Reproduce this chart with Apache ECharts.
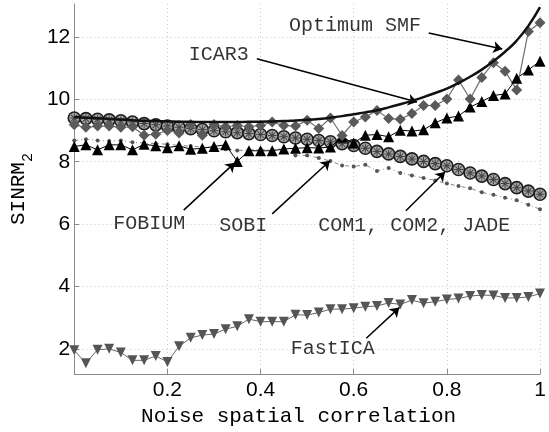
<!DOCTYPE html>
<html>
<head>
<meta charset="utf-8">
<script src="https://cdn.jsdelivr.net/npm/echarts@6/dist/echarts.min.js"></script>
<style>
  html, body { margin: 0; padding: 0; background: #fff; }
  #chart { width: 549px; height: 432px; }
</style>
</head>
<body>
<div id="chart"></div>
<script>
// noise spatial correlation (x)
var noiseCorr = [0, 0.025, 0.05, 0.075, 0.1, 0.125, 0.15, 0.175, 0.2, 0.225,
  0.25, 0.275, 0.3, 0.325, 0.35, 0.375, 0.4, 0.425, 0.45, 0.475,
  0.5, 0.525, 0.55, 0.575, 0.6, 0.625, 0.65, 0.675, 0.7, 0.725,
  0.75, 0.775, 0.8, 0.825, 0.85, 0.875, 0.9, 0.925, 0.95, 0.975, 1];

var smf = [9.43, 9.41, 9.39, 9.37, 9.35, 9.33, 9.31, 9.30, 9.29, 9.28,
  9.28, 9.27, 9.27, 9.27, 9.27, 9.28, 9.28, 9.29, 9.30, 9.32,
  9.34, 9.37, 9.41, 9.46, 9.52, 9.58, 9.65, 9.74, 9.84, 9.95,
  10.07, 10.20, 10.34, 10.52, 10.72, 10.95, 11.22, 11.52, 11.88, 12.35, 12.95];

var icar3 = [9.18, 9.10, 9.14, 9.14, 9.10, 9.12, 8.85, 8.88, 9.00, 8.92,
  9.19, 8.85, 9.19, 9.12, 9.16, 9.12, 9.16, 9.27, 9.16, 9.14,
  9.33, 9.06, 9.40, 8.84, 9.27, 9.43, 9.64, 9.38, 9.36, 9.54,
  9.80, 9.80, 10.01, 10.62, 10.01, 10.70, 11.17, 10.90, 10.30, 12.17, 12.45];

var fobium = [8.49, 8.54, 8.38, 8.54, 8.54, 8.38, 8.56, 8.51, 8.45, 8.51,
  8.40, 8.43, 8.49, 8.54, 8.01, 8.35, 8.35, 8.35, 8.41, 8.43,
  8.45, 8.44, 8.47, 8.78, 8.60, 8.85, 8.87, 8.80, 9.01, 8.98,
  9.02, 9.25, 9.40, 9.46, 9.75, 9.93, 10.12, 10.17, 10.67, 10.94, 11.22];

var com = [9.40, 9.38, 9.36, 9.34, 9.31, 9.27, 9.22, 9.18, 9.14, 9.10,
  9.06, 9.03, 8.99, 8.96, 8.93, 8.90, 8.87, 8.84, 8.80, 8.76,
  8.72, 8.68, 8.64, 8.58, 8.52, 8.43, 8.33, 8.25, 8.17, 8.09,
  8.01, 7.94, 7.87, 7.75, 7.64, 7.54, 7.43, 7.30, 7.17, 7.06, 6.96];

var sobi = [8.68, 8.72, 8.68, 8.66, 8.68, 8.62, 8.60, 8.58, 8.56, 8.52,
  8.50, 8.47, 8.44, 8.40, 8.36, 8.38, 8.40, 8.38, 8.42, 8.20,
  8.20, 8.12, 8.02, 7.88, 7.85, 7.90, 7.70, 7.80, 7.64, 7.56,
  7.48, 7.40, 7.30, 7.22, 7.15, 7.02, 6.94, 6.85, 6.77, 6.62, 6.48];

var fastica = [1.96, 1.55, 1.98, 2.01, 1.89, 1.64, 1.64, 1.78, 1.59, 2.09,
  2.36, 2.45, 2.48, 2.64, 2.73, 2.96, 2.88, 2.88, 2.88, 3.10,
  3.09, 3.17, 3.28, 3.28, 3.31, 3.36, 3.38, 3.48, 3.43, 3.57,
  3.47, 3.52, 3.59, 3.62, 3.70, 3.73, 3.72, 3.64, 3.64, 3.67, 3.78];

// annotation text and where it sits (data coords)
var noteText = ['Optimum SMF', 'ICAR3', 'FOBIUM', 'SOBI', 'COM1, COM2, JADE', 'FastICA'];
var notePos = [[0.603, 12.35], [0.31, 11.43], [0.161, 6.0], [0.363, 5.94], [0.73, 5.94], [0.555, 2.01]];
// arrows: from -> to
var arrowFrom = [[0.761, 12.12], [0.392, 11.30], [0.235, 6.45], [0.425, 6.33], [0.712, 6.43], [0.627, 2.35]];
var arrowTo = [[0.919, 11.61], [0.736, 9.91], [0.345, 7.97], [0.549, 8.03], [0.796, 7.67], [0.698, 3.33]];

function pairs(ys) {
  return noiseCorr.map(function (x, i) { return [x, ys[i]]; });
}

// 8 spokes inside the COM circle
function spokePath() {
  var p = 'path://';
  var r = 10, w = 1.1;
  for (var k = 0; k < 4; k++) {
    var a = k * Math.PI / 4;
    var dx = Math.cos(a), dy = Math.sin(a), nx = -dy, ny = dx;
    var pts = [
      [-r * dx + w * nx, -r * dy + w * ny],
      [r * dx + w * nx, r * dy + w * ny],
      [r * dx - w * nx, r * dy - w * ny],
      [-r * dx - w * nx, -r * dy - w * ny]
    ];
    p += 'M' + pts.map(function (q) { return q[0].toFixed(2) + ',' + q[1].toFixed(2); }).join('L') + 'Z';
  }
  return p;
}

var mono = 'Liberation Mono';
var sans = 'Liberation Sans';

var chart = echarts.init(document.getElementById('chart'));

var option = {
  animation: false,
  backgroundColor: '#fff',
  grid: { left: 65, right: 9, top: 4, bottom: 53 },
  xAxis: {
    type: 'value',
    min: 0,
    max: 1,
    interval: 0.2,
    name: 'Noise spatial correlation',
    nameLocation: 'middle',
    nameGap: 27,
    nameTextStyle: { fontFamily: mono, fontSize: 21, color: '#000', padding: [0, 17, 0, 0] },
    axisLine: { lineStyle: { color: '#8a8a8a', width: 1 } },
    axisTick: { inside: true, length: 5, lineStyle: { color: '#8a8a8a' } },
    axisLabel: {
      fontFamily: sans, fontSize: 21, color: '#000', margin: 6,
      formatter: function (v) { return v === 0 ? '' : String(parseFloat(v.toFixed(1))); }
    },
    splitLine: { show: true, showMinLine: false, showMaxLine: true, lineStyle: { color: '#c8c8c8', type: [1, 3] } }
  },
  yAxis: {
    type: 'value',
    min: 1.2,
    max: 13.05,
    name: '{a|SINRM}{b|2}',
    nameLocation: 'middle',
    nameRotate: 90,
    nameGap: 20,
    nameTextStyle: {
      fontFamily: mono, fontSize: 21, color: '#000',
      rich: {
        a: { fontFamily: mono, fontSize: 21, lineHeight: 28, verticalAlign: 'top', color: '#000' },
        b: { fontFamily: mono, fontSize: 15, lineHeight: 28, verticalAlign: 'bottom', color: '#000' }
      }
    },
    axisLine: { show: true, lineStyle: { color: '#8a8a8a', width: 1 } },
    axisTick: { show: true, inside: true, length: 5, lineStyle: { color: '#8a8a8a' } },
    axisLabel: {
      fontFamily: sans, fontSize: 21, color: '#000', margin: 4,
      showMinLabel: false, showMaxLabel: false
    },
    splitLine: { show: true, showMinLine: false, showMaxLine: false, lineStyle: { color: '#c8c8c8', type: [1, 3] } }
  },
  series: [
    {
      name: 'FastICA', type: 'line', data: pairs(fastica),
      symbol: 'triangle', symbolRotate: 180, symbolSize: 10,
      itemStyle: { color: '#555' },
      lineStyle: { color: '#666', width: 1 }
    },
    {
      name: 'SOBI', type: 'line', data: pairs(sobi),
      symbol: 'circle', symbolSize: 4,
      itemStyle: { color: '#555' },
      lineStyle: { color: '#888', width: 1, type: [4, 3, 1, 3] }
    },
    {
      name: 'COM', type: 'line', data: pairs(com),
      symbol: 'circle', symbolSize: 12,
      itemStyle: { color: '#a8a8a8', borderColor: '#1e1e1e', borderWidth: 1.6 },
      lineStyle: { color: '#222', width: 1 }
    },
    {
      name: 'COM spokes', type: 'scatter', data: pairs(com), z: 3,
      symbol: spokePath(), symbolSize: 9,
      itemStyle: { color: '#2a2a2a' }
    },
    {
      name: 'FOBIUM', type: 'line', data: pairs(fobium), z: 4,
      symbol: 'triangle', symbolSize: 11,
      itemStyle: { color: '#000' },
      lineStyle: { color: '#000', width: 1 }
    },
    {
      name: 'ICAR3', type: 'line', data: pairs(icar3), z: 4,
      symbol: 'diamond', symbolSize: 11,
      itemStyle: { color: '#5a5a5a' },
      lineStyle: { color: '#6e6e6e', width: 1.2 }
    },
    {
      name: 'Optimum SMF', type: 'line', data: pairs(smf), z: 5,
      symbol: 'none', smooth: true,
      lineStyle: { color: '#111', width: 2.5 }
    },
    {
      name: 'notes', type: 'scatter', symbolSize: 0, silent: true, z: 6,
      data: noteText.map(function (t, i) { return { name: t, value: notePos[i] }; }),
      label: {
        show: true, position: 'inside', formatter: '{b}',
        fontFamily: mono, fontSize: 20, color: '#000'
      },
      markLine: {
        silent: true,
        symbol: ['none', 'arrow'],
        symbolSize: 9,
        label: { show: false },
        lineStyle: { color: '#000', width: 1.5, type: 'solid' },
        data: arrowFrom.map(function (f, i) { return [{ coord: f }, { coord: arrowTo[i] }]; })
      }
    }
  ]
};

chart.setOption(option);
</script>
</body>
</html>
